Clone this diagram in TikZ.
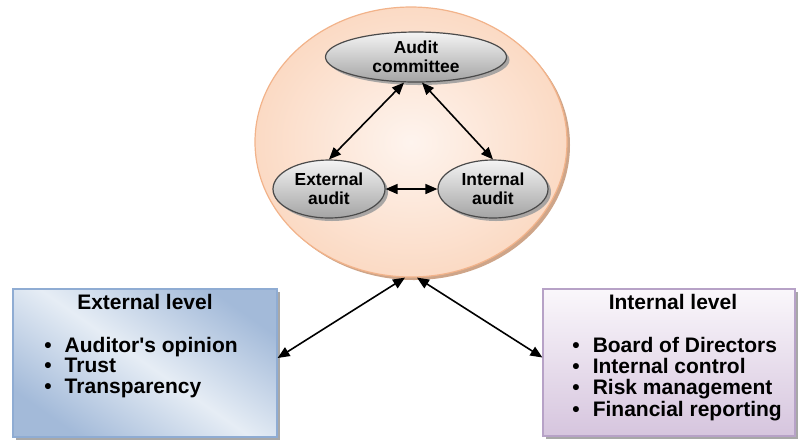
\documentclass[tikz,border=0pt]{standalone}
\usepackage{fontspec}
\setmainfont{Liberation Sans}
\usepackage{tikz}
\usetikzlibrary{arrows.meta, shapes.geometric, shadows, calc}
\definecolor{peachedge}{HTML}{F2B38A}
\definecolor{peachdark}{HTML}{FBDAC4}
\definecolor{peachlight}{HTML}{FEF4EE}
\definecolor{peachshadow}{HTML}{C99B7C}
\definecolor{memberedge}{HTML}{4A4A4A}
\definecolor{membertop}{HTML}{F4F4F4}
\definecolor{memberbottom}{HTML}{A4A4A4}
\definecolor{blueedge}{HTML}{8FACD3}
\definecolor{bluedark}{HTML}{A3BAD9}
\definecolor{bluelight}{HTML}{E6EDF5}
\definecolor{lilacedge}{HTML}{B7A2C7}
\definecolor{lilacdark}{HTML}{D6C5DE}
\definecolor{lilaclight}{HTML}{FAF7FB}
\tikzset{hatch shadow/.style={drop shadow={shadow xshift=1.5pt,shadow yshift=-1.5pt,fill=#1,opacity=.9}},hatch shadow/.default=gray!75}
\tikzset{core/.style={ellipse,draw=peachedge,line width=0.6pt,shading=radial,inner color=peachlight,outer color=peachdark,minimum width=156pt,minimum height=135pt,hatch shadow=peachshadow}}
\tikzset{member/.style={ellipse,draw=memberedge,line width=0.6pt,top color=membertop,bottom color=memberbottom,inner sep=0pt,align=center,font=\fontsize{8.7}{9.5}\selectfont\bfseries,hatch shadow}}
\tikzset{level box/.style={rectangle,line width=0.6pt,inner sep=0pt,hatch shadow}}
\tikzset{level title/.style={inner sep=0pt,font=\fontsize{10.5}{10.2}\selectfont\bfseries}}
\tikzset{level list/.style={inner sep=0pt,font=\fontsize{10.5}{10.2}\selectfont\bfseries}}
\tikzset{link/.style={<->,line width=0.8pt}}

\begin{document}
\begin{tikzpicture}[x=0.5pt,y=-0.5pt,>={Triangle[length=6pt,width=5pt]}]
    \useasboundingbox (0,0) rectangle (798,441);
    % the circle with the three bodies
    \node[core] (core) at (411,142) {};
    \node[member,minimum width=90.5pt,minimum height=25pt] (comm) at (416,57) {Audit\\committee};
    \node[member,minimum width=56pt,minimum height=29pt] (ext) at (329,189) {External\\audit};
    \node[member,minimum width=55pt,minimum height=29pt] (int) at (493,189) {Internal\\audit};

    % the two levels
    \node[level box,draw=blueedge,left color=bluedark,right color=bluedark,middle color=bluelight,shading angle=-35,minimum width=132pt,minimum height=74pt] (extlvl) at (145,363) {};
    \node[level box,draw=lilacedge,top color=lilaclight,bottom color=lilacdark,minimum width=126pt,minimum height=73.5pt] (intlvl) at (669,362.5) {};

    \node[level title,anchor=base] (extlvl-title) at (145,309) {External level};
    \node[level list,anchor=base west] (extlvl-items) at (44,352) {\begin{tabular}[t]{@{}l@{\hspace{6.5pt}}l@{}}
        \textbullet & Auditor\textquotesingle s opinion\\
        \textbullet & Trust\\
        \textbullet & Transparency
    \end{tabular}};
    \node[level title,anchor=base] (intlvl-title) at (673,309) {Internal level};
    \node[level list,anchor=base west] (intlvl-items) at (572,352) {\begin{tabular}[t]{@{}l@{\hspace{6.5pt}}l@{}}
        \textbullet & Board of Directors\\
        \textbullet & Internal control\\
        \textbullet & Risk management\\
        \textbullet & Financial reporting
    \end{tabular}};

    % links
    \draw[link] ([xshift=-6pt]comm.south) -- (ext.north);
    \draw[link] ([xshift=3pt]comm.south) -- (int.north);
    \draw[link] (ext.east) -- (int.west);
    \draw[link] ([xshift=-3pt]core.south) -- ([yshift=2.5pt]extlvl.east);
    \draw[link] ([xshift=3pt]core.south) -- ([yshift=2.5pt]intlvl.west);
\end{tikzpicture}
\end{document}
